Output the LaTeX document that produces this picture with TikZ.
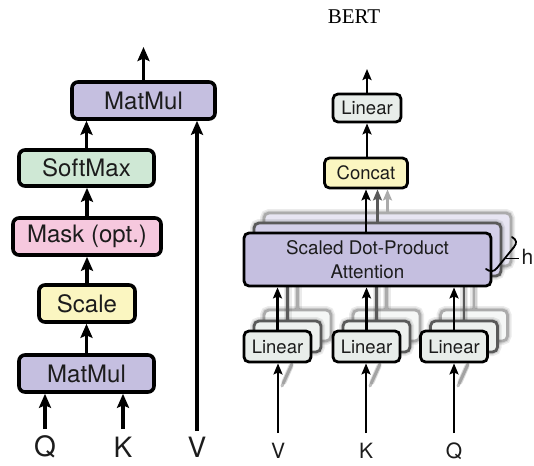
\documentclass[tikz,border=0pt]{standalone}
\usepackage{fontspec}
\setmainfont{TeX Gyre Heros}
\newfontfamily\serifface{Liberation Serif}
\usetikzlibrary{arrows.meta}

\definecolor{ink}{HTML}{1C1C1C}
\definecolor{matmulfill}{HTML}{C5BFE0}
\definecolor{softmaxfill}{HTML}{CFE8D5}
\definecolor{maskfill}{HTML}{F6C8DE}
\definecolor{scalefill}{HTML}{FBF6C1}
\definecolor{linearfill}{HTML}{E8EDEA}
\definecolor{midedge}{HTML}{5A5A5A}
\definecolor{backedge}{HTML}{ABABAB}
\definecolor{attmid}{HTML}{D3CFE9}
\definecolor{attback}{HTML}{E7E5F2}
\definecolor{linmid}{HTML}{EEF1EF}
\definecolor{linback}{HTML}{F5F7F6}

\tikzset{
  lbox/.style={draw=black, line width=3.6pt, rounded corners=6pt, inner sep=0pt,
    text=ink, font=\fontsize{24}{26}\selectfont},
  rbox/.style={draw=black, line width=2.8pt, rounded corners=5pt, inner sep=0pt,
    text=ink, font=\fontsize{18.5}{22}\selectfont},
  larr/.style={line width=3.6pt, -{Stealth[length=14pt,width=12pt,inset=2.5pt]}},
  rarr/.style={line width=2.6pt, -{Stealth[length=11pt,width=9pt,inset=2pt]}},
  haze/.style={preaction={draw=black, draw opacity=0.08, line width=8pt},
               preaction={draw=black, draw opacity=0.10, line width=5pt}},
  midlayer/.style={rbox, draw=midedge, haze},
  backlayer/.style={rbox, draw=backedge, haze},
  inlabel/.style={text=ink, inner sep=0pt},
}

\begin{document}
\begin{tikzpicture}[x=1pt, y=-1pt]
\useasboundingbox (0,0) rectangle (534,465);
\clip (0,0) rectangle (534,465);

% title
\node[text=black, font=\serifface\fontsize{21}{23}\selectfont] (title) at (354,17) {BERT};

% ---------------- scaled dot-product attention ----------------
\node[lbox, fill=matmulfill, minimum width=143pt, minimum height=37pt] (mm2) at (143.5,100.5) {MatMul};
\node[lbox, fill=softmaxfill, minimum width=135pt, minimum height=36pt] (softmax) at (86.5,168) {SoftMax};
\node[lbox, fill=maskfill, minimum width=148pt, minimum height=37pt] (mask) at (87,236.5) {Mask (opt.)};
\node[lbox, fill=scalefill, minimum width=96pt, minimum height=37pt] (scale) at (87,303.5) {Scale};
\node[lbox, fill=matmulfill, minimum width=135pt, minimum height=37pt] (mm1) at (86.5,373.5) {MatMul};

\coordinate (out1) at (143.5,47);
\draw[larr] (mm2.north) -- (out1);
\draw[larr] (softmax.north) -- (softmax.north |- mm2.south);
\draw[larr] (mask.north) -- (mask.north |- softmax.south);
\draw[larr] (scale.north) -- (scale.north |- mask.south);
\draw[larr] (mm1.north) -- (mm1.north |- scale.south);

\node[inlabel, font=\fontsize{28}{30}\selectfont] (lq) at (45,447) {Q};
\node[inlabel, font=\fontsize{28}{30}\selectfont] (lk) at (123,447) {K};
\node[inlabel, font=\fontsize{28}{30}\selectfont] (lv) at (197,447) {V};
\coordinate (qin) at (45,429);
\coordinate (kin) at (123,429);
\coordinate (vin) at (197,431);
\draw[larr] (qin) -- (qin |- mm1.south);
\draw[larr] (kin) -- (kin |- mm1.south);
\draw[larr] (vin) -- (vin |- mm2.south);

% ---------------- multi-head attention ----------------
% stacked heads behind the front layer
\node[backlayer, fill=attback, minimum width=247pt, minimum height=53pt] (att3) at (387.5,239.5) {};
\node[midlayer, fill=attmid, minimum width=247pt, minimum height=53pt] (att2) at (377.5,249.5) {};

\foreach \n/\x in {V/277.5, K/366.5, Q/454} {
  \node[backlayer, fill=linback, minimum width=67pt, minimum height=31pt] (lin\n3) at (\x+20,325.5) {};
  \node[midlayer, fill=linmid, minimum width=67pt, minimum height=31pt] (lin\n2) at (\x+10,336.5) {};
}
\foreach \n in {V,K,Q} {
  \draw[backedge, line width=2.6pt, haze] (lin\n3.north) -- (lin\n3.north |- att3.south);
  \draw[midedge, line width=2.6pt, haze] (lin\n2.north) -- (lin\n2.north |- att2.south);
}

% front layer
\node[rbox, fill=matmulfill, minimum width=247pt, minimum height=53pt, align=center,
      font=\fontsize{18.8}{24}\selectfont] (att) at (367.5,259.5) {Scaled Dot-Product\\Attention};
\node[rbox, fill=linearfill, minimum width=67pt, minimum height=31pt] (linV) at (277.5,346.5) {Linear};
\node[rbox, fill=linearfill, minimum width=67pt, minimum height=31pt] (linK) at (366.5,346.5) {Linear};
\node[rbox, fill=linearfill, minimum width=67pt, minimum height=31pt] (linQ) at (454,346.5) {Linear};

\node[rbox, fill=scalefill, minimum width=83pt, minimum height=30pt] (concat) at (366,173) {Concat};
\node[rbox, fill=linearfill, minimum width=68pt, minimum height=28pt] (linout) at (367,108) {Linear};

% head outputs into Concat
\draw[rarr, draw=backedge] (att3.north) -- (att3.north |- concat.south);
\draw[rarr, draw=midedge] (att2.north) -- (att2.north |- concat.south);
\draw[rarr] (att.north -| concat.south) -- (concat.south);
\draw[rarr] (concat.north) -- (concat.north -| linout.south) -- (linout.south);
\coordinate (out2) at (367,69);
\draw[rarr] (linout.north) -- (out2);

% projections into the attention block
\foreach \n in {V,K,Q} {
  \draw[rarr] (lin\n.north) -- (lin\n.north |- att.south);
}

% inputs with faint copies feeding the hidden heads
\foreach \n/\x/\t in {V/278/V, K/366/K, Q/454/Q} {
  \coordinate (in\n) at (\x,433);
  \draw[black, draw opacity=0.25, line width=3pt, line cap=round] (\x+4,386) -- (\x+14,364);
  \draw[black, draw opacity=0.15, line width=5pt, line cap=round] (\x+6,382) -- (\x+13,366);
  \draw[rarr] (in\n) -- (in\n |- lin\n.south);
  \node[inlabel, font=\fontsize{21}{23}\selectfont] (r\t) at (\x,451) {\t};
}

% h heads bracket
\draw[black, line width=1.8pt, line cap=round]
  (512,237) .. controls (517,240) and (517,243) .. (514,247)
  -- (497,268) .. controls (494,272) and (490,272) .. (486,269);
\draw[black, line width=1pt] (506,258) -- (519,258);
\node[inlabel, anchor=east, font=\fontsize{21}{23}\selectfont] (hlabel) at (533.5,257) {h};
\end{tikzpicture}
\end{document}
